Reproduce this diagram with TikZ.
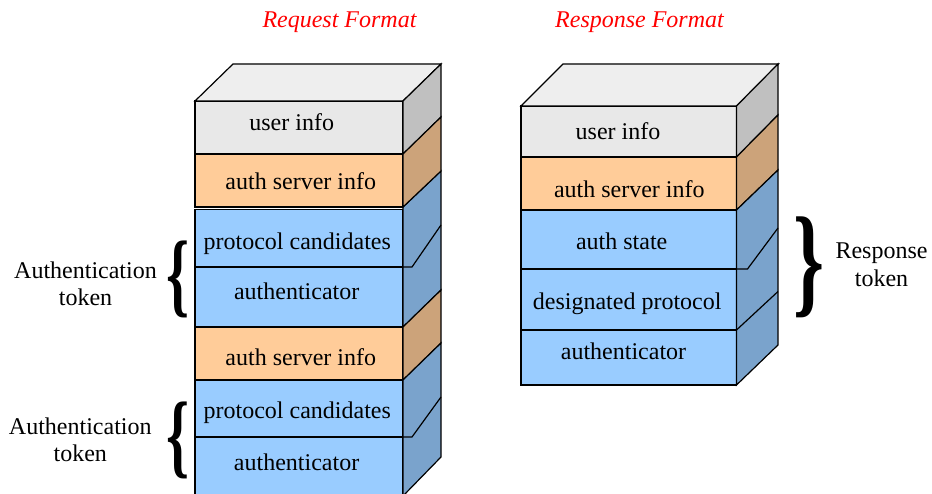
\documentclass[tikz,border=0pt]{standalone}
\usepackage{fontspec}
\setmainfont{Liberation Serif}
\usetikzlibrary{calc}

\definecolor{topC}{HTML}{EEEEEE}
\definecolor{grayF}{HTML}{E8E8E8}
\definecolor{grayS}{HTML}{C0C0C0}
\definecolor{orangeF}{HTML}{FFCC99}
\definecolor{orangeS}{HTML}{CCA37A}
\definecolor{blueF}{HTML}{99CCFF}
\definecolor{blueS}{HTML}{7AA3CC}
\definecolor{titleC}{HTML}{FF0000}

\tikzset{
  face/.style={draw=black, line width=1.2pt, rectangle, inner sep=0pt, outer sep=0pt, anchor=north west},
  sideface/.style={draw=black, line width=1.2pt, line join=miter},
  txt/.style={font=\fontsize{24}{27.5}\selectfont, inner sep=0pt, anchor=base},
  lbl/.style={font=\fontsize{24}{27.5}\selectfont, inner sep=0pt, align=center},
  ttl/.style={font=\fontsize{24}{27.5}\selectfont\itshape, text=titleC, inner sep=0pt, anchor=base},
  brc/.style={inner sep=0pt, outer sep=0pt, font=\bfseries}
}

\begin{document}
\begin{tikzpicture}[x=1pt, y=-1pt]
\clip (0,0) rectangle (932,494);
\fill[white] (0,0) rectangle (932,494);

% titles
\node[ttl] (reqT) at (339.5,27.5) {Request Format};
\node[ttl] (resT) at (639.5,27.5) {Response Format};

% ---------- request stack: front faces ----------
\node[face, fill=grayF,   minimum width=208, minimum height=53]   (Lf1) at (195,101)   {};
\node[face, fill=orangeF, minimum width=208, minimum height=53]   (Lf2) at (195,154)   {};
\node[face, fill=blueF,   minimum width=208, minimum height=57.5] (Lf3) at (195,209.5) {};
\node[face, fill=blueF,   minimum width=208, minimum height=60]   (Lf4) at (195,267)   {};
\node[face, fill=orangeF, minimum width=208, minimum height=53]   (Lf5) at (195,327)   {};
\node[face, fill=blueF,   minimum width=208, minimum height=57]   (Lf6) at (195,380)   {};
\node[face, fill=blueF,   minimum width=208, minimum height=59]   (Lf7) at (195,437)   {};

% request stack: top and right-hand faces
\filldraw[sideface, fill=topC] (Lf1.north west) -- ++(38,-37) -- ++(208,0) -- (Lf1.north east) -- cycle;
\filldraw[sideface, fill=grayS] (Lf1.north east) -- ++(38,-37) -- ($(Lf1.south east)+(38,-37)$) -- (Lf1.south east) -- cycle;
\filldraw[sideface, fill=blueS] (Lf2.south east) -- ++(38,-36) -- ($(Lf4.south east)+(38,-37)$) -- (Lf4.south east) -- cycle;
\filldraw[sideface, fill=orangeS] (Lf2.north east) -- ++(38,-37) -- ($(Lf2.south east)+(38,-36)$) -- (Lf2.south east) -- cycle;
\draw[sideface] (Lf3.south east) -- ++(9,0) -- ++(29,-42);
\filldraw[sideface, fill=orangeS] (Lf5.north east) -- ++(38,-37) -- ($(Lf5.south east)+(38,-37)$) -- (Lf5.south east) -- cycle;
\filldraw[sideface, fill=blueS] (Lf6.north east) -- ++(38,-37) -- ($(Lf7.south east)+(38,-39)$) -- (Lf7.south east) -- cycle;
\draw[sideface] (Lf6.south east) -- ++(9,0) -- ++(29,-40);

% request stack: texts
\node[txt] (Lt1) at (291.7,131)   {user info};
\node[txt] (Lt2) at (300.8,189.3) {auth server info};
\node[txt] (Lt3) at (297.3,249.3) {protocol candidates};
\node[txt] (Lt4) at (296.7,300)   {authenticator};
\node[txt] (Lt5) at (300.8,366)   {auth server info};
\node[txt] (Lt6) at (297.3,418.3) {protocol candidates};
\node[txt] (Lt7) at (296.6,470)   {authenticator};

% ---------- response stack: front faces ----------
\node[face, fill=grayF,   minimum width=215.5, minimum height=51] (Rf1) at (521,106) {};
\node[face, fill=orangeF, minimum width=215.5, minimum height=53] (Rf2) at (521,157) {};
\node[face, fill=blueF,   minimum width=215.5, minimum height=59] (Rf3) at (521,210) {};
\node[face, fill=blueF,   minimum width=215.5, minimum height=61] (Rf4) at (521,269) {};
\node[face, fill=blueF,   minimum width=215.5, minimum height=55] (Rf5) at (521,330) {};

% response stack: top and right-hand faces
\filldraw[sideface, fill=topC] (Rf1.north west) -- ++(42,-42) -- ++(215.5,0) -- (Rf1.north east) -- cycle;
\filldraw[sideface, fill=grayS] (Rf1.north east) -- ++(41.5,-42) -- ($(Rf1.south east)+(41.5,-42)$) -- (Rf1.south east) -- cycle;
\filldraw[sideface, fill=orangeS] (Rf2.north east) -- ++(41.5,-42) -- ($(Rf2.south east)+(41.5,-40)$) -- (Rf2.south east) -- cycle;
\filldraw[sideface, fill=blueS] (Rf3.north east) -- ++(41.5,-40) -- ($(Rf5.south east)+(41.5,-40)$) -- (Rf5.south east) -- cycle;
\draw[sideface] (Rf3.south east) -- ++(11,0) -- ++(30.5,-41);
\draw[sideface] (Rf4.south east) -- ++(41.5,-38.5);

% response stack: texts
\node[txt] (Rt1) at (618,139.3)   {user info};
\node[txt] (Rt2) at (629.3,197.7) {auth server info};
\node[txt] (Rt3) at (621.7,249.3) {auth state};
\node[txt] (Rt4) at (627.2,309.3) {designated protocol};
\node[txt] (Rt5) at (623.5,359.3) {authenticator};

% ---------- braces and their labels ----------
\node[brc] (bL1) at (178,279.5) {\resizebox*{23pt}{77pt}{\{}};
\node[brc] (bL2) at (178,440.5) {\resizebox*{23pt}{77pt}{\{}};
\node[brc] (bR)  at (809,267)   {\resizebox*{31pt}{101pt}{\}}};

\node[lbl] (aL1) at (85.5,284)  {Authentication\\token};
\node[lbl] (aL2) at (80.3,440)  {Authentication\\token};
\node[lbl] (aR)  at (881.5,265) {Response\\token};
\end{tikzpicture}
\end{document}
